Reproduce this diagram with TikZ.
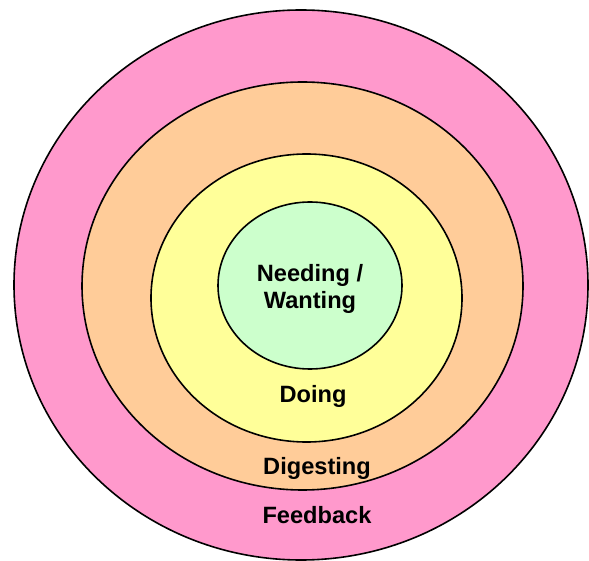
\documentclass[tikz,border=0pt]{standalone}
\usepackage{fontspec}
\setmainfont{Liberation Sans}
\usetikzlibrary{shapes.geometric}
\definecolor{ringpink}{HTML}{FF99CC}
\definecolor{ringorange}{HTML}{FFCC99}
\definecolor{ringyellow}{HTML}{FFFF99}
\definecolor{ringgreen}{HTML}{CCFFCC}
\begin{document}
\begin{tikzpicture}[x=1pt,y=-1pt,
  ring/.style={ellipse, draw=black, line width=1.6pt, inner sep=0pt, outer sep=0pt},
  label/.style={font=\fontsize{23.6}{27.5}\selectfont\bfseries, align=center, inner sep=0pt}]
  \useasboundingbox (0,0) rectangle (589,561);
  % nested rings, outermost first
  \node[ring, fill=ringpink,   minimum width=574pt, minimum height=550pt] (feedback)  at (301,285) {};
  \node[ring, fill=ringorange, minimum width=441pt, minimum height=408pt] (digesting) at (302.5,286) {};
  \node[ring, fill=ringyellow, minimum width=311pt, minimum height=288pt] (doing)     at (306.5,298) {};
  \node[ring, fill=ringgreen,  minimum width=184pt, minimum height=167pt] (needing)   at (310,285.5) {};
  % ring labels
  \node[label] (tneed) at (310,289) {Needing /\\Wanting};
  \node[label] (tdo)   at (313,396) {Doing};
  \node[label] (tdig)  at (317,468) {Digesting};
  \node[label] (tfb)   at (317,515) {Feedback};
\end{tikzpicture}
\end{document}
